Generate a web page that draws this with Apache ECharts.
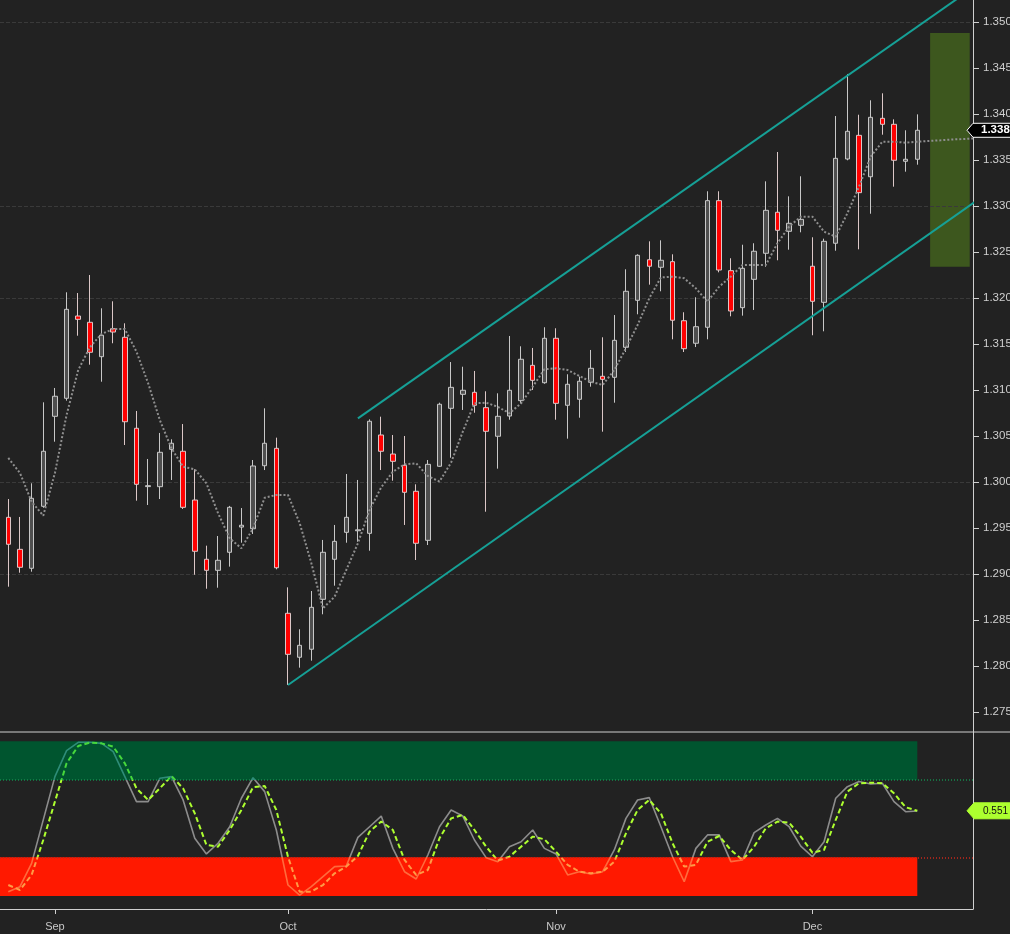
<!DOCTYPE html>
<html><head><meta charset="utf-8">
<script src="https://cdn.jsdelivr.net/npm/echarts@6/dist/echarts.min.js"></script>
<style>html,body{margin:0;padding:0;background:#222222;overflow:hidden;}#c{width:1010px;height:934px;}</style>
</head><body><div id="c"></div>
<script>
const dates = ['2018-08-28','2018-08-29','2018-08-30','2018-08-31',
'2018-09-03','2018-09-04','2018-09-05','2018-09-06','2018-09-07','2018-09-10','2018-09-11','2018-09-12','2018-09-13','2018-09-14',
'2018-09-17','2018-09-18','2018-09-19','2018-09-20','2018-09-21','2018-09-24','2018-09-25','2018-09-26','2018-09-27','2018-09-28',
'2018-10-01','2018-10-02','2018-10-03','2018-10-04','2018-10-05','2018-10-08','2018-10-09','2018-10-10','2018-10-11','2018-10-12',
'2018-10-15','2018-10-16','2018-10-17','2018-10-18','2018-10-19','2018-10-22','2018-10-23','2018-10-24','2018-10-25','2018-10-26',
'2018-10-29','2018-10-30','2018-10-31',
'2018-11-01','2018-11-02','2018-11-05','2018-11-06','2018-11-07','2018-11-08','2018-11-09','2018-11-12','2018-11-13','2018-11-14',
'2018-11-15','2018-11-16','2018-11-19','2018-11-20','2018-11-21','2018-11-22','2018-11-23','2018-11-26','2018-11-27','2018-11-28',
'2018-11-29','2018-11-30',
'2018-12-03','2018-12-04','2018-12-05','2018-12-06','2018-12-07','2018-12-10','2018-12-11','2018-12-12','2018-12-13','2018-12-14'];

const opens = [1.29616,1.29268,1.29062,1.29736,1.30714,1.30910,1.31804,1.31736,1.31362,1.31666,
1.31573,1.30584,1.29950,1.29949,1.30355,1.30334,1.29804,1.29160,1.29040,1.29236,
1.29510,1.29492,1.30177,1.30366,1.28573,1.28095,1.28182,1.28725,1.29160,1.29453,
1.29470,1.29442,1.30511,1.30304,1.30182,1.29899,1.29366,1.30171,1.30801,1.30953,
1.30975,1.30808,1.30497,1.30717,1.30884,1.31268,1.31079,1.31562,1.30834,1.30899,
1.31084,1.31149,1.31138,1.31464,1.31975,1.32416,1.32334,1.32395,1.31753,1.31508,
1.31682,1.33058,1.32297,1.31895,1.32203,1.32486,1.32932,1.32725,1.32790,1.32345,
1.31953,1.32595,1.33511,1.33768,1.33318,1.33953,1.33888,1.33486,1.33508];
const closes = [1.29323,1.29073,1.29823,1.30334,1.30932,1.31877,1.31768,1.31410,1.31595,1.31630,
1.30655,1.29975,1.29960,1.30323,1.30421,1.29725,1.29247,1.29040,1.29149,1.29725,
1.29530,1.30174,1.30421,1.29068,1.28127,1.28225,1.28638,1.29236,1.29355,1.29616,
1.29480,1.30660,1.30334,1.30225,1.29888,1.29334,1.30192,1.30845,1.31029,1.30997,
1.30834,1.30551,1.30714,1.30997,1.31334,1.31105,1.31562,1.30855,1.31062,1.31095,
1.31236,1.31116,1.31540,1.32073,1.32464,1.32345,1.32410,1.31758,1.31449,1.31688,
1.33058,1.32304,1.31859,1.32323,1.32508,1.32953,1.32736,1.32812,1.32855,1.31964,
1.32616,1.33518,1.33812,1.33145,1.33964,1.33888,1.33497,1.33508,1.33823];
const lows = [1.28862,1.29014,1.29025,1.29720,1.30438,1.30884,1.31590,1.31275,1.31090,1.31508,
1.30402,1.29797,1.29750,1.29815,1.30022,1.29707,1.28992,1.28840,1.28851,1.29080,
1.29340,1.29435,1.30130,1.29051,1.27793,1.27982,1.28058,1.28562,1.28873,1.29340,
1.29351,1.29253,1.30130,1.30014,1.29533,1.29152,1.29315,1.30165,1.30264,1.30783,
1.30753,1.29677,1.30145,1.30677,1.30855,1.31000,1.31068,1.30677,1.30471,1.30699,
1.31036,1.30547,1.30862,1.31413,1.31823,1.32145,1.32073,1.31551,1.31413,1.31467,
1.31551,1.32279,1.31801,1.31808,1.31870,1.32340,1.32410,1.32525,1.32714,1.31595,
1.31638,1.32514,1.33497,1.32529,1.32916,1.33775,1.33210,1.33373,1.33449];
const highs = [1.29815,1.29620,1.29986,1.30866,1.31022,1.32062,1.32054,1.32250,1.31888,1.31964,
1.31725,1.30772,1.30250,1.30533,1.30464,1.30630,1.30138,1.29308,1.29413,1.29740,
1.29717,1.30239,1.30801,1.30482,1.28855,1.28399,1.28815,1.29370,1.29533,1.30087,
1.30022,1.30681,1.30710,1.30511,1.30500,1.29975,1.30239,1.30862,1.31304,1.31253,
1.31207,1.30986,1.30964,1.31587,1.31475,1.31457,1.31682,1.31671,1.31171,1.31145,
1.31435,1.31573,1.31815,1.32312,1.32475,1.32616,1.32627,1.32475,1.31845,1.32008,
1.33160,1.33160,1.32432,1.32579,1.32595,1.33268,1.33587,1.33105,1.33323,1.32660,
1.32645,1.33978,1.34435,1.33992,1.34149,1.34225,1.33942,1.33823,1.33996];

// moving average (dotted), extends a few bars past the last candle
const maValues = [1.30261,1.30098,1.29786,1.29634,1.30098,1.30728,1.31217,1.31464,1.31609,1.31663,
1.31663,1.31416,1.31073,1.30674,1.30366,1.30166,1.30138,1.29986,1.29660,1.29388,
1.29279,1.29497,1.29829,1.29859,1.29859,1.29554,1.29120,1.28627,1.28753,1.29043,
1.29334,1.29696,1.29942,1.30112,1.30192,1.30203,1.30065,1.30005,1.30212,1.30547,
1.30855,1.30862,1.30818,1.30747,1.30855,1.31036,1.31225,1.31236,1.31217,1.31152,
1.31090,1.31054,1.31217,1.31453,1.31707,1.31997,1.32223,1.32232,1.32214,1.32105,
1.31960,1.32123,1.32232,1.32359,1.32359,1.32359,1.32595,1.32775,1.32884,1.32884,
1.32721,1.32666,1.32921,1.33210,1.33536,1.33699,1.33699,1.33688,1.33699,1.33707,
1.33714,1.33723,1.33728,1.33735];

// oscillator (lower pane)
const kValues = [0.028,0.060,0.211,0.492,0.772,0.940,0.994,0.994,0.987,0.934,
0.772,0.610,0.610,0.761,0.772,0.621,0.373,0.272,0.341,0.448,
0.632,0.765,0.675,0.427,0.071,0.006,0.060,0.125,0.190,0.194,
0.379,0.448,0.517,0.308,0.157,0.110,0.265,0.448,0.556,0.517,
0.362,0.248,0.222,0.319,0.351,0.427,0.308,0.272,0.136,0.157,
0.142,0.157,0.298,0.502,0.621,0.636,0.448,0.254,0.093,0.308,
0.395,0.395,0.222,0.233,0.410,0.459,0.502,0.448,0.323,0.254,
0.351,0.632,0.707,0.740,0.724,0.729,0.610,0.545,0.550];
const dValues = [0.071,0.039,0.136,0.362,0.610,0.858,0.970,0.992,0.987,0.966,
0.858,0.696,0.621,0.696,0.776,0.696,0.535,0.330,0.319,0.427,
0.556,0.703,0.712,0.556,0.254,0.028,0.028,0.071,0.147,0.190,
0.259,0.416,0.481,0.427,0.233,0.136,0.168,0.373,0.502,0.524,
0.427,0.319,0.229,0.254,0.319,0.384,0.367,0.287,0.201,0.157,
0.147,0.157,0.222,0.405,0.556,0.621,0.535,0.341,0.190,0.201,
0.351,0.388,0.298,0.233,0.319,0.438,0.481,0.474,0.384,0.280,
0.298,0.492,0.675,0.729,0.733,0.729,0.664,0.574,0.551];

// trend channel [bar index, price]
const upperChannel = [[30, 1.30692], [83, 1.35392]];
const lowerChannel = [[24, 1.27793], [83, 1.33050]];
// target zone [fromBar, toBar, low, high]
const targetZone = [79.1, 82.5, 1.3234, 1.3488];

const priceTicks = [1.2750,1.2800,1.2850,1.2900,1.2950,1.3000,1.3050,1.3100,1.3150,1.3200,1.3250,1.3300,1.3350,1.3400,1.3450,1.3500];
const priceGridLines = [1.2750,1.2900,1.3050,1.3200,1.3350,1.3500];
const oscOverbought = [0.75, 1.0];
const oscOversold = [0.0, 0.25];
const monthNames = ['Jan','Feb','Mar','Apr','May','Jun','Jul','Aug','Sep','Oct','Nov','Dec'];

// ---- layout (view window) ----
const X_MIN = -0.712, X_MAX = 82.78;
const P_MIN = 1.272826, P_MAX = 1.352391;
const O_MIN = -0.0841, O_MAX = 1.0605;
const FONT = '"Liberation Sans", Arial, sans-serif';
const AXIS_C = '#cfcfcf';

const monthIdx = [];
for (let i = 1; i < dates.length; i++) {
  if (dates[i].slice(5, 7) !== dates[i - 1].slice(5, 7)) monthIdx.push(i);
}
const candleData = dates.map((d, i) => [i, opens[i], closes[i], lows[i], highs[i]]);
const maData = maValues.map((v, i) => [i, v]);
const kData = kValues.map((v, i) => [i, v]);
const dData = dValues.map((v, i) => [i, v]);
const lastIdx = dates.length - 1;

const chart = echarts.init(document.getElementById('c'), null, {renderer: 'canvas', width: 1010, height: 934});
chart.setOption({
  animation: false,
  backgroundColor: '#222222',
  textStyle: {fontFamily: FONT},
  grid: [
    {left: 0, right: 37, top: 0, height: 732, containLabel: false, outerBoundsMode: 'none'},
    {left: 0, right: 37, top: 732, height: 177, containLabel: false, outerBoundsMode: 'none'}
  ],
  xAxis: [
    {type: 'value', gridIndex: 0, min: X_MIN, max: X_MAX, show: false},
    {type: 'value', gridIndex: 1, min: X_MIN, max: X_MAX,
     axisLine: {show: true, onZero: false, lineStyle: {color: AXIS_C, width: 1}},
     axisTick: {show: true, customValues: monthIdx, length: 5, lineStyle: {color: AXIS_C}},
     axisLabel: {show: true, customValues: monthIdx, color: '#c8c8c8', fontSize: 11, margin: 12, fontFamily: FONT,
       formatter: v => monthNames[parseInt(dates[Math.round(v)].slice(5, 7), 10) - 1]},
     splitLine: {show: false}}
  ],
  yAxis: [
    {type: 'value', gridIndex: 0, position: 'right', min: P_MIN, max: P_MAX,
     axisLine: {show: true, onZero: false, lineStyle: {color: AXIS_C, width: 1}},
     axisTick: {show: true, customValues: priceTicks, length: 6, lineStyle: {color: AXIS_C}},
     axisLabel: {show: true, customValues: priceTicks, color: '#d0d0d0', fontSize: 11.5, margin: 10, fontFamily: FONT,
       hideOverlap: false, formatter: v => v.toFixed(4)},
     splitLine: {show: false}},
    {type: 'value', gridIndex: 1, position: 'right', min: O_MIN, max: O_MAX,
     axisLine: {show: true, onZero: false, lineStyle: {color: AXIS_C, width: 1}},
     axisTick: {show: false}, axisLabel: {show: false}, splitLine: {show: false}}
  ],
  visualMap: [
    {type: 'piecewise', show: false, seriesIndex: 4, dimension: 1,
     pieces: [{lt: 0.25, color: '#ff6a3c'}, {gte: 0.25, lte: 0.75, color: '#8c8c8c'}, {gt: 0.75, color: '#2e8c78'}]},
    {type: 'piecewise', show: false, seriesIndex: 5, dimension: 1,
     pieces: [{lt: 0.25, color: '#ff9a45'}, {gte: 0.25, lte: 0.75, color: '#adff2f'}, {gt: 0.75, color: '#46d83c'}]}
  ],
  series: [
    {type: 'candlestick', name: 'price', xAxisIndex: 0, yAxisIndex: 0, data: candleData, barWidth: 5, z: 2,
     itemStyle: {color: '#4f4f4f', color0: '#ff0000', borderColor: '#c8c8c8', borderColor0: '#dcc8c8', borderWidth: 1},
     markLine: {silent: true, symbol: ['none', 'none'], z: 1, label: {show: false},
       lineStyle: {color: '#3a3a3a', type: 'dashed', width: 1},
       data: priceGridLines.map(v => ({yAxis: v}))},
     markArea: {silent: true, z: 1,
       data: [[{xAxis: targetZone[0], yAxis: targetZone[3], itemStyle: {color: '#3d571e', opacity: 1}},
               {xAxis: targetZone[1], yAxis: targetZone[2]}]]}
    },
    {type: 'line', name: 'MA', xAxisIndex: 0, yAxisIndex: 0, data: maData, showSymbol: false, z: 5, silent: true,
     lineStyle: {color: '#8f8f8f', width: 2, type: [2, 2]}},
    {type: 'line', name: 'upper', xAxisIndex: 0, yAxisIndex: 0, data: upperChannel, showSymbol: false, z: 4, silent: true,
     lineStyle: {color: '#16a096', width: 2}},
    {type: 'line', name: 'lower', xAxisIndex: 0, yAxisIndex: 0, data: lowerChannel, showSymbol: false, z: 4, silent: true,
     lineStyle: {color: '#16a096', width: 2}},
    {type: 'line', name: 'K', xAxisIndex: 1, yAxisIndex: 1, data: kData, showSymbol: false, z: 3, silent: true,
     lineStyle: {width: 1.6},
     markArea: {silent: true, z: 1,
       data: [
         [{xAxis: X_MIN, yAxis: oscOverbought[1], itemStyle: {color: '#00552f', opacity: 1}}, {xAxis: lastIdx, yAxis: oscOverbought[0]}],
         [{xAxis: X_MIN, yAxis: oscOversold[1], itemStyle: {color: '#ff1900', opacity: 1}}, {xAxis: lastIdx, yAxis: oscOversold[0]}]
       ]},
     markLine: {silent: true, symbol: ['none', 'none'], z: 2, label: {show: false},
       data: [
         {yAxis: oscOverbought[0], lineStyle: {color: '#168a4e', type: [1, 2], width: 1.5}},
         {yAxis: oscOversold[1], lineStyle: {color: '#c8281c', type: [1, 2], width: 1.5}}
       ]}
    },
    {type: 'line', name: 'D', xAxisIndex: 1, yAxisIndex: 1, data: dData, showSymbol: false, z: 4, silent: true,
     lineStyle: {width: 2, type: [5, 3]}}
  ]
});

const lastClose = closes[lastIdx];
const lastD = dValues[lastIdx];
const yP = chart.convertToPixel({yAxisIndex: 0}, lastClose);
const yO = chart.convertToPixel({yAxisIndex: 1}, lastD);
chart.setOption({
  graphic: [
    {type: 'line', silent: true, z: 10, shape: {x1: 0, y1: 732, x2: 1010, y2: 732}, style: {stroke: AXIS_C, lineWidth: 1}},
    {type: 'polygon', silent: true, z: 20, shape: {points: [[967, yP], [973, yP - 7], [1015, yP - 7], [1015, yP + 7], [973, yP + 7]]},
     style: {fill: '#000000', stroke: '#ffffff', lineWidth: 1}},
    {type: 'text', silent: true, z: 21, x: 981, y: yP,
     style: {text: lastClose.toFixed(4), fill: '#ffffff', font: 'bold 11.5px ' + FONT, verticalAlign: 'middle', align: 'left'}},
    {type: 'polygon', silent: true, z: 20, shape: {points: [[967, yO], [974, yO - 8], [1015, yO - 8], [1015, yO + 8], [974, yO + 8]]},
     style: {fill: '#adff2f', stroke: '#adff2f', lineWidth: 1}},
    {type: 'text', silent: true, z: 21, x: 983, y: yO,
     style: {text: lastD.toFixed(3), fill: '#111111', font: '10px ' + FONT, verticalAlign: 'middle', align: 'left'}}
  ]
});
</script>
</body></html>
